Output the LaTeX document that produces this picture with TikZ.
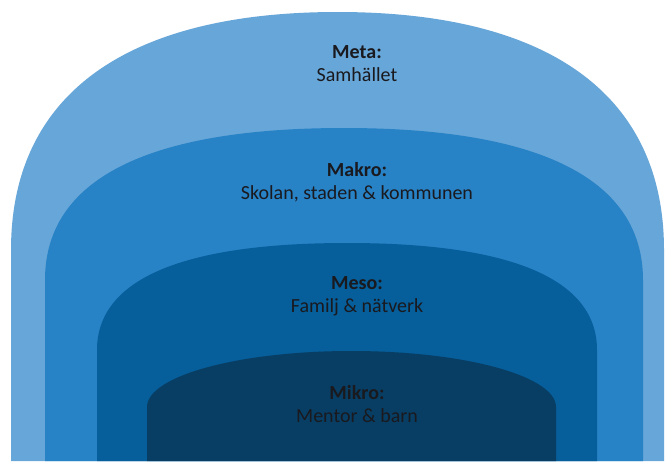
\documentclass[tikz,border=0pt]{standalone}
\usepackage{fontspec}
\setmainfont{Carlito}
\definecolor{metablue}{RGB}{103,166,216}
\definecolor{makroblue}{RGB}{40,130,198}
\definecolor{mesoblue}{RGB}{6,94,154}
\definecolor{mikroblue}{RGB}{8,62,100}
\definecolor{labeltext}{RGB}{25,25,30}

% Arch: straight sides from the bottom edge, rounded top.
% #1 left x, #2 right x, #3 top y, #4 y where the sides turn, #5 colour,
% #6 control-point factor (0.5523 = elliptic, larger = squarer)
\newcommand{\archlayer}[6]{%
  \pgfmathsetmacro{\acx}{(#1+#2)/2}%
  \pgfmathsetmacro{\ack}{#6}%
  \pgfmathsetmacro{\acya}{#4-\ack*(#4-#3)}%
  \pgfmathsetmacro{\acxl}{\acx-\ack*(\acx-#1)}%
  \pgfmathsetmacro{\acxr}{\acx+\ack*(#2-\acx)}%
  \fill[#5] (#1,461) -- (#1,#4)
    .. controls (#1,\acya) and (\acxl,#3) .. (\acx,#3)
    .. controls (\acxr,#3) and (#2,\acya) .. (#2,#4)
    -- (#2,461) -- cycle;%
}

\tikzset{
  layerlabel/.style={align=center, text=labeltext, inner sep=0pt,
    font=\fontsize{20}{23}\selectfont}
}

\begin{document}
\begin{tikzpicture}[x=1pt, y=-1pt]
  \useasboundingbox (0,0) rectangle (669,461);
  \fill[white] (0,0) rectangle (669,461);

  \archlayer{11}{664}{12}{250}{metablue}{0.65}
  \archlayer{45}{643}{128}{280}{makroblue}{0.66}
  \archlayer{97}{597}{243}{350}{mesoblue}{0.66}
  \archlayer{147}{556}{351}{407}{mikroblue}{0.5523}

  \node[layerlabel] (meta)  at (357,64)  {\textbf{Meta:}\\Samhället};
  \node[layerlabel] (makro) at (357,182) {\textbf{Makro:}\\Skolan, staden \& kommunen};
  \node[layerlabel] (meso)  at (357,296) {\textbf{Meso:}\\Familj \& nätverk};
  \node[layerlabel] (mikro) at (357,404) {\textbf{Mikro:}\\Mentor \& barn};
\end{tikzpicture}
\end{document}
